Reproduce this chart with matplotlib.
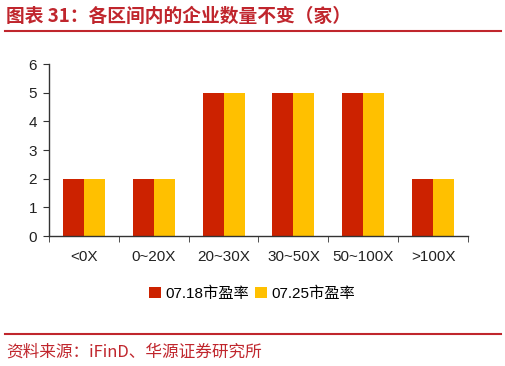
import matplotlib
matplotlib.use("Agg")
import matplotlib.pyplot as plt
import numpy as np

categories = ["<0X", "0~20X", "20~30X", "30~50X", "50~100X", ">100X"]
s1_name = "07.18市盈率"
s2_name = "07.25市盈率"
s1_values = [2, 2, 5, 5, 5, 2]
s2_values = [2, 2, 5, 5, 5, 2]
title = "图表 31：各区间内的企业数量不变（家）"
source = "资料来源：iFinD、华源证券研究所"

plt.rcParams['font.family'] = ['Liberation Sans', 'Noto Sans CJK SC', 'DejaVu Sans']

fig = plt.figure(figsize=(5.06, 3.66), dpi=100)
ax = fig.add_axes([49/506, 1-236/366, (468-49)/506, (236-64)/366])

x = np.arange(len(categories))
w = 0.3
c1 = "#CC2200"
c2 = "#FFC000"
ax.bar(x - w/2, s1_values, width=w, color=c1, label=s1_name)
ax.bar(x + w/2, s2_values, width=w, color=c2, label=s2_name)

ax.set_xlim(-0.5, len(categories) - 0.5)
ax.set_ylim(0, 6)
ax.set_yticks(range(0, 7))
ax.set_xticks(x)
ax.set_xticklabels(categories, fontsize=11, color="#222222")
ax.tick_params(axis='x', length=0, pad=10)
ax.set_xticks(np.arange(-0.5, len(categories), 1), minor=True)
ax.tick_params(axis='x', which='minor', length=4.5, direction='out', color="#333333")
ax.tick_params(axis='y', length=4.5, direction='out', labelsize=11, color="#333333", labelcolor="#222222", pad=4)
for s in ['top', 'right']:
    ax.spines[s].set_visible(False)
for s in ['left', 'bottom']:
    ax.spines[s].set_color("#333333")
    ax.spines[s].set_linewidth(1.0)

leg = fig.legend(loc='center', bbox_to_anchor=(252/506, 1-294/366), ncol=2, frameon=False,
                 fontsize=11, handlelength=0.75, handleheight=0.75, handletextpad=0.3, columnspacing=0.4)

red = "#C0262D"
fig.text(6/506, 1-16/366, title, fontsize=13.5, color=red, fontweight='bold',
         family=['Noto Sans CJK SC', 'DejaVu Sans'], va='center', ha='left')
fig.add_artist(plt.Line2D([5/506, 501/506], [1-31/366, 1-31/366], color=red, linewidth=1.5, transform=fig.transFigure))
fig.add_artist(plt.Line2D([5/506, 501/506], [1-334/366, 1-334/366], color=red, linewidth=1.5, transform=fig.transFigure))
fig.text(6/506, 1-352/366, source, fontsize=12, color=red,
         family=['Noto Sans CJK SC', 'DejaVu Sans'], va='center', ha='left')

fig.savefig("out.png", dpi=100)
